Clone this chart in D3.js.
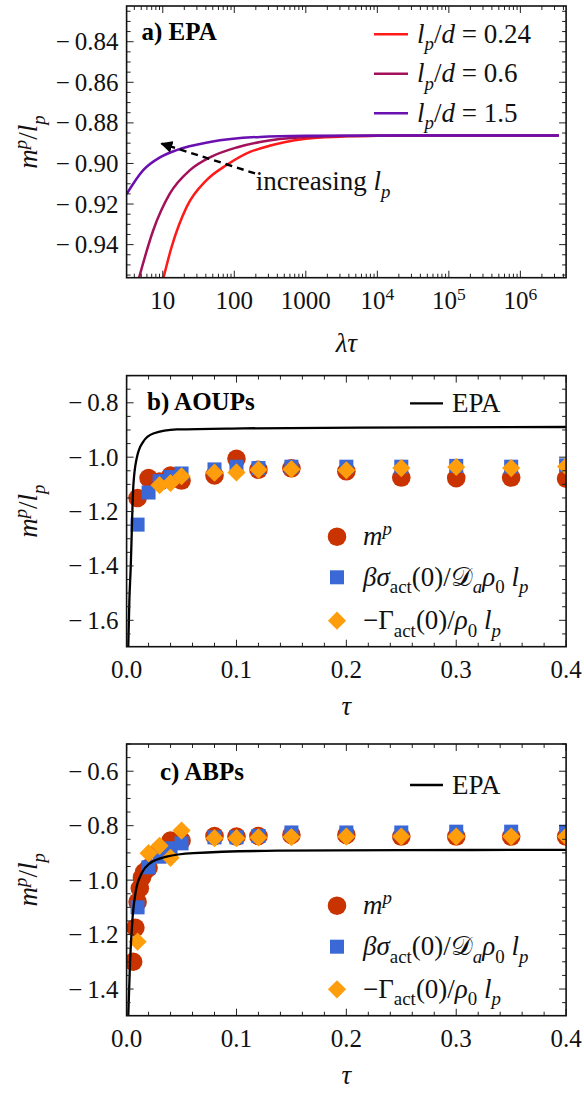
<!DOCTYPE html>
<html>
<head>
<meta charset="utf-8">
<script src="https://cdn.jsdelivr.net/npm/d3@7"></script>
<style>
  body { margin: 0; background: #fff; }
  svg { display: block; font-family: "Liberation Serif", "DejaVu Serif", serif; }
</style>
</head>
<body>
<svg id="chart" width="584" height="1096"></svg>
<script>
// ---- panel a: EPA curves, m^p/l_p vs lambda*tau
const a024X = [9.8, 13.3, 21.6, 41, 78, 166, 229, 500, 1000, 3000, 1e4, 1e5, 3.45e6];
const a024Y = [-0.959, -0.9411, -0.9214, -0.9082, -0.9008, -0.8943, -0.8926, -0.8895, -0.8878, -0.8868, -0.8864, -0.8862, -0.8862];
const a06X = [4.6, 7.36, 12.6, 24, 45.7, 108, 229, 1000, 3000, 1e4, 1e5, 3.45e6];
const a06Y = [-0.957, -0.9329, -0.9148, -0.9033, -0.897, -0.8921, -0.8894, -0.8870, -0.8865, -0.8863, -0.8862, -0.8862];
const a15X = [3.12, 5.33, 9.14, 15.6, 45.7, 229, 1000, 1e4, 1e5, 3.45e6];
const a15Y = [-0.9151, -0.9033, -0.897, -0.8934, -0.8894, -0.8869, -0.8864, -0.8862, -0.8862, -0.8862];
const aLegend = ['0.24', '0.6', '1.5'];
const aTicksY = [-0.94, -0.92, -0.90, -0.88, -0.86, -0.84];
const aTicksX = [10, 100, 1000, 1e4, 1e5, 1e6];

// ---- panel b: AOUPs
const bTauM = [0.01, 0.02, 0.03, 0.04, 0.05, 0.08, 0.1, 0.12, 0.15, 0.2, 0.25, 0.3, 0.35, 0.4];
const bM = [-1.15, -1.077, -1.09, -1.068, -1.086, -1.067, -1.006, -1.046, -1.041, -1.052, -1.075, -1.077, -1.075, -1.079];
const bTauS = [0.01, 0.02, 0.03, 0.04, 0.05, 0.08, 0.1, 0.12, 0.15, 0.2, 0.25, 0.3, 0.35, 0.4];
const bS = [-1.248, -1.13, -1.088, -1.073, -1.06, -1.045, -1.035, -1.04, -1.035, -1.035, -1.035, -1.032, -1.035, -1.03];
const bTauG = [0.03, 0.04, 0.05, 0.08, 0.1, 0.12, 0.15, 0.2, 0.25, 0.3, 0.35, 0.4];
const bG = [-1.103, -1.095, -1.07, -1.057, -1.056, -1.046, -1.044, -1.048, -1.04, -1.036, -1.04, -1.034];
const bEpaTau = [0.0015, 0.0025, 0.0037, 0.0061, 0.0092, 0.0152, 0.0243, 0.0456, 0.106, 0.212, 0.4];
const bEpa = [-1.70, -1.53, -1.41, -1.107, -1.004, -0.943, -0.913, -0.898, -0.894, -0.891, -0.889];
const bTicksY = [-1.6, -1.4, -1.2, -1.0, -0.8];

// ---- panel c: ABPs
const cTauM = [0.006, 0.008, 0.01, 0.012, 0.014, 0.016, 0.02, 0.03, 0.04, 0.05, 0.08, 0.1, 0.12, 0.15, 0.2, 0.25, 0.3, 0.35, 0.4];
const cM = [-1.30, -1.175, -1.08, -1.03, -0.99, -0.97, -0.955, -0.89, -0.855, -0.855, -0.838, -0.84, -0.838, -0.834, -0.834, -0.84, -0.84, -0.84, -0.84];
const cTauS = [0.01, 0.02, 0.03, 0.04, 0.05, 0.08, 0.1, 0.12, 0.15, 0.2, 0.25, 0.3, 0.35, 0.4];
const cS = [-1.10, -0.953, -0.914, -0.883, -0.865, -0.843, -0.843, -0.838, -0.825, -0.825, -0.825, -0.822, -0.822, -0.822];
const cTauG = [0.01, 0.02, 0.03, 0.04, 0.05, 0.08, 0.1, 0.12, 0.15, 0.2, 0.25, 0.3, 0.35, 0.4];
const cG = [-1.226, -0.901, -0.874, -0.918, -0.818, -0.846, -0.846, -0.843, -0.842, -0.84, -0.84, -0.84, -0.84, -0.84];
const cEpaTau = [0.0015, 0.0031, 0.0055, 0.0086, 0.0137, 0.0213, 0.0365, 0.0607, 0.137, 0.25, 0.4];
const cEpa = [-1.50, -1.305, -1.134, -1.036, -0.975, -0.938, -0.914, -0.901, -0.892, -0.890, -0.889];
const cTicksY = [-1.4, -1.2, -1.0, -0.8, -0.6];

const tauTicks = [0, 0.1, 0.2, 0.3, 0.4];

const colM = '#c93300', colS = '#3a68d6', colG = '#ff9e0c';
const lineCols = ['#ff1a1a', '#a3115a', '#6a0fb0'];

const svg = d3.select('#chart');
const FS = 25;      // tick labels
const TXT = 27;     // legends, annotations, axis titles
const left = 126.6, right = 566.1;

// текст з курсивом, індексами і степенями
function rich(sel, parts) {
    let shift = 0;
    parts.forEach(([t, s]) => {
        const ts = sel.append('tspan').text(t);
        let want = 0;
        if (s && s.includes('sub')) want = 0.28;
        if (s && s.includes('sup')) want = -0.38;
        const size = parseFloat(sel.attr('font-size'));
        const dy = (want - shift) * size;
        if (dy !== 0) ts.attr('dy', dy);
        shift = want;
        if (s && (s.includes('sub') || s.includes('sup'))) ts.attr('font-size', size * 0.7);
        if (s && s.includes('i')) ts.attr('font-style', 'italic');
    });
    return sel;
}

function fmtNum(v, dec) {
    const s = Math.abs(v).toFixed(dec);
    return v < 0 ? '\u2212\u2009' + s : s;
}

function frameTicks(g, x, y, xMajor, xMinor, yMajor, yMinor) {
    const [x0, x1] = x.range(), [y1, y0] = y.range();
    const tk = (list, len, horiz) => {
        list.forEach(v => {
            if (horiz) {
                const px = x(v);
                if (px < x0 - 0.5 || px > x1 + 0.5) return;
                g.append('line').attr('x1', px).attr('x2', px).attr('y1', y1).attr('y2', y1 - len);
                g.append('line').attr('x1', px).attr('x2', px).attr('y1', y0).attr('y2', y0 + len);
            } else {
                const py = y(v);
                if (py < y0 - 0.5 || py > y1 + 0.5) return;
                g.append('line').attr('y1', py).attr('y2', py).attr('x1', x0).attr('x2', x0 + len);
                g.append('line').attr('y1', py).attr('y2', py).attr('x1', x1).attr('x2', x1 - len);
            }
        });
    };
    g.attr('stroke', '#222').attr('stroke-width', 1);
    tk(xMajor, 7, true); tk(xMinor, 4, true);
    tk(yMajor, 7, false); tk(yMinor, 4, false);
    g.append('rect').attr('x', x0).attr('y', y0).attr('width', x1 - x0).attr('height', y1 - y0)
        .attr('fill', 'none').attr('stroke', '#111').attr('stroke-width', 1.6);
}

function yLabels(x, y, ticks, dec) {
    ticks.forEach(v => {
        svg.append('text').attr('x', x.range()[0] - 8).attr('y', y(v) + 8.5)
            .attr('text-anchor', 'end').attr('font-size', FS).attr('fill', '#111')
            .text(fmtNum(v, dec));
    });
}

function yTitle(cy) {
    const t = svg.append('text').attr('transform', `translate(37,${cy}) rotate(-90)`)
        .attr('text-anchor', 'middle').attr('font-size', TXT).attr('fill', '#111');
    rich(t, [['m', 'i'], ['p', 'supi'], ['/', ''], ['l', 'i'], ['p', 'subi']]);
}

// ================= panel a =================
(function () {
    const x = d3.scaleLog().domain([3.12, 4.36e6]).range([left, right]);
    const y = d3.scaleLinear().domain([-0.9563, -0.8224]).range([277.7, 6]);
    const g = svg.append('g');
    svg.append('clipPath').attr('id', 'clipA').append('rect')
        .attr('x', left).attr('y', 6).attr('width', right - left).attr('height', 271.7);

    const line = d3.line().x(d => x(d[0])).y(d => y(d[1])).curve(d3.curveMonotoneX);
    const curves = [[a024X, a024Y], [a06X, a06Y], [a15X, a15Y]];
    curves.forEach(([xs, ys], i) => {
        g.append('path').datum(xs.map((v, k) => [v, ys[k]]))
            .attr('clip-path', 'url(#clipA)')
            .attr('fill', 'none').attr('stroke', lineCols[i]).attr('stroke-width', 2.5)
            .attr('d', line);
    });

    // стрілка "increasing l_p"
    svg.append('defs').append('marker').attr('id', 'arrowHead')
        .attr('viewBox', '0 0 10 10').attr('refX', 9).attr('refY', 5)
        .attr('markerWidth', 5).attr('markerHeight', 5).attr('orient', 'auto')
        .append('path').attr('d', 'M0,0 L10,5 L0,10 z').attr('fill', '#000');
    g.append('line').attr('x1', x(195)).attr('y1', y(-0.9049)).attr('x2', x(9.6)).attr('y2', y(-0.8902))
        .attr('stroke', '#000').attr('stroke-width', 2.4).attr('stroke-dasharray', '7,5')
        .attr('marker-end', 'url(#arrowHead)');
    rich(svg.append('text').attr('x', x(200)).attr('y', y(-0.9132)).attr('font-size', TXT).attr('fill', '#111'),
        [['increasing ', ''], ['l', 'i'], ['p', 'subi']]);

    const ticks = svg.append('g');
    const minors = [];
    for (let e = 0; e <= 6; e++) for (let m = 2; m <= 9; m++) minors.push(m * Math.pow(10, e));
    const yMinor = d3.range(-0.955, -0.82, 0.005).filter(v => !aTicksY.some(t => Math.abs(t - v) < 1e-6));
    frameTicks(ticks, x, y, aTicksX, minors, aTicksY, yMinor);

    yLabels(x, y, aTicksY, 2);
    aTicksX.forEach(v => {
        const e = Math.round(Math.log10(v));
        const t = svg.append('text').attr('x', x(v)).attr('y', 309).attr('text-anchor', 'middle')
            .attr('font-size', FS).attr('fill', '#111');
        if (e <= 3) t.text(String(v));
        else rich(t, [['10', ''], [String(e), 'sup']]);
    });

    svg.append('text').attr('x', 141.5).attr('y', 40).attr('font-size', 25).attr('font-weight', 'bold')
        .text('a) EPA');

    aLegend.forEach((lab, i) => {
        const ly = 34.3 + i * 39.5;
        svg.append('line').attr('x1', 374).attr('x2', 408).attr('y1', ly).attr('y2', ly)
            .attr('stroke', lineCols[i]).attr('stroke-width', 2.5);
        rich(svg.append('text').attr('x', 417).attr('y', ly + 8.5).attr('font-size', TXT).attr('fill', '#111'),
            [['l', 'i'], ['p', 'subi'], ['/', ''], ['d', 'i'], [' = ' + lab, '']]);
    });

    rich(svg.append('text').attr('x', (left + right) / 2).attr('y', 352).attr('text-anchor', 'middle')
        .attr('font-size', TXT).attr('fill', '#111'), [['λτ', 'i']]);
    yTitle(142);
})();

// ================= panels b, c =================
function scatterPanel(cfg) {
    const x = d3.scaleLinear().domain([0, 0.4]).range([left, right]);
    const y = d3.scaleLinear().domain(cfg.yDomain).range([cfg.y1, cfg.y0]);
    const clipId = 'clip' + cfg.id;
    svg.append('clipPath').attr('id', clipId).append('rect')
        .attr('x', left).attr('y', cfg.y0).attr('width', right - left).attr('height', cfg.y1 - cfg.y0);
    const g = svg.append('g').attr('clip-path', `url(#${clipId})`);
    const diamond = d3.symbol().type(d3.symbolSquare).size(165);

    g.selectAll('circle.m').data(cfg.tauM.map((t, i) => [t, cfg.m[i]])).join('circle')
        .attr('cx', d => x(d[0])).attr('cy', d => y(d[1])).attr('r', 9.3).attr('fill', colM);
    g.selectAll('rect.s').data(cfg.tauS.map((t, i) => [t, cfg.s[i]])).join('rect')
        .attr('x', d => x(d[0]) - 7).attr('y', d => y(d[1]) - 7)
        .attr('width', 14).attr('height', 14).attr('fill', colS);
    g.selectAll('path.g').data(cfg.tauG.map((t, i) => [t, cfg.gam[i]])).join('path')
        .attr('transform', d => `translate(${x(d[0])},${y(d[1])}) rotate(45)`)
        .attr('d', diamond).attr('fill', colG);

    const line = d3.line().x(d => x(d[0])).y(d => y(d[1])).curve(d3.curveMonotoneX);
    g.append('path').datum(cfg.epaTau.map((t, i) => [t, cfg.epa[i]]))
        .attr('fill', 'none').attr('stroke', '#000').attr('stroke-width', 2.3).attr('d', line);

    const ticks = svg.append('g');
    const xMinor = d3.range(0.02, 0.4, 0.02).filter(v => Math.abs(v * 10 - Math.round(v * 10)) > 1e-6);
    const [d0, d1] = cfg.yDomain;
    const yMinor = d3.range(Math.ceil(d0 / 0.05) * 0.05, d1, 0.05)
        .filter(v => !cfg.ticksY.some(t => Math.abs(t - v) < 1e-6));
    frameTicks(ticks, x, y, tauTicks, xMinor, cfg.ticksY, yMinor);

    yLabels(x, y, cfg.ticksY, 1);
    tauTicks.forEach(v => {
        svg.append('text').attr('x', x(v)).attr('y', cfg.y1 + 31).attr('text-anchor', 'middle')
            .attr('font-size', FS).attr('fill', '#111').text(v.toFixed(1));
    });
    rich(svg.append('text').attr('x', (left + right) / 2).attr('y', cfg.y1 + 68).attr('text-anchor', 'middle')
        .attr('font-size', TXT).attr('fill', '#111'), [['τ', 'i']]);
    yTitle((cfg.y0 + cfg.y1) / 2);

    svg.append('text').attr('x', cfg.titleX).attr('y', cfg.titleY).attr('font-size', 25)
        .attr('font-weight', 'bold').text(cfg.title);

    // легенда EPA
    svg.append('line').attr('x1', 410).attr('x2', 443).attr('y1', cfg.epaLegY).attr('y2', cfg.epaLegY)
        .attr('stroke', '#000').attr('stroke-width', 2.3);
    svg.append('text').attr('x', 452).attr('y', cfg.epaLegY + 8.5).attr('font-size', TXT).attr('fill', '#111')
        .text('EPA');

    // легенда маркерів
    const lx = 337, ly = cfg.legY;
    svg.append('circle').attr('cx', lx).attr('cy', ly[0]).attr('r', 9.3).attr('fill', colM);
    svg.append('rect').attr('x', lx - 7).attr('y', ly[1] - 7).attr('width', 14).attr('height', 14).attr('fill', colS);
    svg.append('path').attr('transform', `translate(${lx},${ly[2]}) rotate(45)`)
        .attr('d', diamond).attr('fill', colG);
    const lt = i => svg.append('text').attr('x', 363).attr('y', ly[i] + 8.5).attr('font-size', TXT).attr('fill', '#111');
    rich(lt(0), [['m', 'i'], ['p', 'supi']]);
    rich(lt(1), [['βσ', 'i'], ['act', 'sub'], ['(0)/', ''], ['𝒟', ''], ['a', 'subi'], ['ρ', 'i'], ['0', 'sub'], [' ', ''], ['l', 'i'], ['p', 'subi']]);
    rich(lt(2), [['−Γ', ''], ['act', 'sub'], ['(0)/', ''], ['ρ', 'i'], ['0', 'sub'], [' ', ''], ['l', 'i'], ['p', 'subi']]);
}

scatterPanel({
    id: 'B', y0: 375.6, y1: 646.7, yDomain: [-1.697, -0.70], ticksY: bTicksY,
    tauM: bTauM, m: bM, tauS: bTauS, s: bS, tauG: bTauG, gam: bG, epaTau: bEpaTau, epa: bEpa,
    title: 'b) AOUPs', titleX: 147, titleY: 410, epaLegY: 403.3, legY: [536.7, 577.3, 620.7]
});
scatterPanel({
    id: 'C', y0: 744, y1: 1015.7, yDomain: [-1.498, -0.50], ticksY: cTicksY,
    tauM: cTauM, m: cM, tauS: cTauS, s: cS, tauG: cTauG, gam: cG, epaTau: cEpaTau, epa: cEpa,
    title: 'c) ABPs', titleX: 160, titleY: 780, epaLegY: 785, legY: [905.7, 946.7, 989.3]
});
</script>
</body>
</html>
